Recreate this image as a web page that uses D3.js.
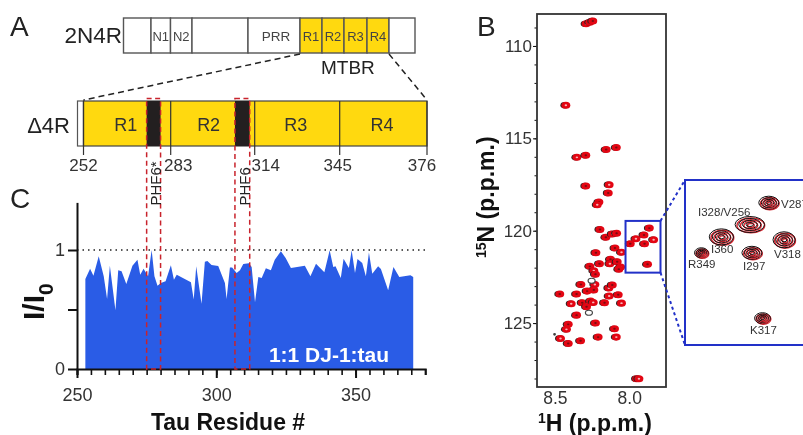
<!DOCTYPE html>
<html>
<head>
  <meta charset="UTF-8" />
  <title>tau DJ-1 figure</title>
  <script src="https://d3js.org/d3.v7.min.js"></script>
  <style>
    html, body { margin: 0; padding: 0; background: #fff; overflow: hidden; }
    svg { display: block; filter: blur(0.35px); }
    text { font-family: "Liberation Sans", Arial, sans-serif; fill: #333; }
    .letter { font-size: 28px; fill: #222; }
    .bold { font-weight: bold; fill: #111; }
    .axis path, .axis line { stroke: #111; }
    .axis text { fill: #333; }
  </style>
</head>
<body>
<div id="chart"></div>
<script>
// panel A, full length tau
var fullNames = ["", "N1", "N2", "", "PRR", "R1", "R2", "R3", "R4", ""];
var fullEdges = [1, 42, 71, 103, 187, 243, 264, 295, 326, 368, 441];
var fullFilled = [0, 0, 0, 0, 0, 1, 1, 1, 1, 0];
// panel A, repeat domain
var repeatTicks = [252, 283, 314, 345, 376];
var repeatNames = ["R1", "R2", "R3", "R4"];
var repeatLabelAt = [267, 297, 329, 360];
var motifNames = ["PHF6*", "PHF6"];
var motifStart = [275, 306.7];
var motifEnd = [280, 312];
// panel C
var residues = [253, 254.7, 255.9, 257.8, 259.6, 260.8, 261.8, 263.8, 264.8, 266, 267.7, 269.9, 271.7, 272.7, 273.9,
  275.5, 276.8, 277.8, 278.9, 280.1, 281.8, 283.7, 284.8, 285.8, 290.9, 291.9, 292.8, 294.7, 295.9, 296.8, 298.3,
  300.7, 303.1, 303.7, 304.9, 305.7, 307.3, 308.5, 309.7, 311.7, 312.7, 313.9, 315.1, 316.3, 317.8, 319.6, 321,
  323.2, 324.9, 326.8, 331.8, 333.8, 335.8, 338.8, 340.7, 342, 342.8, 344.7, 345.7, 347.6, 348.6, 349.8, 350.7,
  352.4, 353.7, 354.8, 356, 358.1, 359.1, 361.7, 363.6, 365.7, 369.7, 370.7];
var ratios = [.756, .843, .784, .947, .779, .588, .868, .493, .829, .821, .714, .868, .919, .793, .843,
  .779, 1.0, .779, .70, .723, .737, .871, .751, .793, .728, .583, .863, .549, .902, .908, .874,
  .866, .723, .588, .852, .852, .807, .829, .882, .888, .857, .56, .773, .765, .846, .829, .919,
  .989, .933, .849, .868, .779, .885, .812, .997, .857, .863, .765, .927, .849, .997, .807, .924,
  .891, .779, .98, .801, .863, .84, .661, .857, .773, .787, .773];
// panel B, peaks outside the boxed region
var peakH = [8.29, 8.265, 8.245, 8.426, 8.155, 8.087, 8.352, 8.292, 8.292, 8.135, 8.141, 8.204, 8.215,
  8.197, 8.157, 8.114, 8.085, 8.096, 8.052, 8.224, 8.126, 8.13, 8.2, 8.081, 8.058, 8.07, 8.265, 8.238, 8.227,
  8.325, 8.231, 8.238, 8.283, 8.137, 8.114, 8.074, 8.135, 8.467, 8.354, 8.39, 8.316, 8.26, 8.242, 8.287,
  8.166, 8.052, 8.354, 8.41, 8.422, 8.227, 8.099, 8.462, 8.327, 8.209, 8.087, 8.41, 7.951, 7.935];
var peakN = [108.8, 108.72, 108.65, 113.21, 115.61, 115.5, 116.03, 115.92, 117.58, 117.51, 117.96, 118.45, 118.6,
  119.93, 120.36, 120.18, 120.14, 120.94, 121.17, 121.19, 121.55, 121.79, 121.79, 121.68, 121.97, 122.08, 121.93, 122.17, 122.36,
  122.91, 122.91, 123.21, 123.27, 123.1, 122.94, 123.47, 123.54, 123.43, 123.43, 123.95, 123.9, 123.81, 123.88, 124.12,
  123.9, 123.92, 124.57, 125.07, 125.34, 125, 125.31, 125.83, 125.96, 125.76, 125.76, 126.1, 128.01, 128.01];
// reference only contours, no red on top
var openH = [8.253, 8.271, 8.502];
var openN = [122.71, 124.44, 125.61];
// panel B, assigned peaks in the boxed region
var assigned = ["V287", "I328/V256", "I360", "R349", "I297", "V318", "K317"];
var assignedH = [7.865, 7.901, 7.955, 7.993, 7.897, 7.836, 7.877];
var assignedN = [119.86, 120.23, 120.44, 120.71, 120.71, 120.49, 121.82];
var widthH = [.019, .028, .023, .013, .019, .021, .015];
var widthN = [.11, .136, .136, .085, .11, .136, .093];
var boxH = [8.025, 7.79];
var boxN = [119.47, 122.27];

var svg = d3.select("#chart").append("svg").attr("width", 803).attr("height", 435);

var yellow = "#ffd90f", blue = "#2a5ce6", red = "#c8232c", peakRed = "#e30613", boxBlue = "#2231c8";

// panel letters
svg.append("text").attr("class", "letter").attr("x", 10).attr("y", 36).text("A");
svg.append("text").attr("class", "letter").attr("x", 477).attr("y", 36).text("B");
svg.append("text").attr("class", "letter").attr("x", 10).attr("y", 208).text("C");

// ---- panel A top bar
var xFull = d3.scaleLinear()
  .domain(fullEdges)
  .range([123.5, 151, 170.5, 192, 248, 300, 322, 344, 367, 389, 415]);
var topBar = svg.append("g");
fullNames.forEach(function(name, i) {
  topBar.append("rect")
    .attr("x", xFull(fullEdges[i])).attr("y", 18)
    .attr("width", xFull(fullEdges[i + 1]) - xFull(fullEdges[i])).attr("height", 35)
    .attr("fill", fullFilled[i] ? yellow : "#fff")
    .attr("stroke", "#555").attr("stroke-width", 1.4);
  topBar.append("text")
    .attr("x", (xFull(fullEdges[i]) + xFull(fullEdges[i + 1])) / 2 + (name == "PRR" ? 2 : 0)).attr("y", 41)
    .attr("text-anchor", "middle").attr("font-size", name == "PRR" ? 13.5 : 13)
    .style("fill", "#444").text(name);
});
svg.append("text").attr("x", 122).attr("y", 43).attr("text-anchor", "end").attr("font-size", 22.5).style("fill", "#222").text("2N4R");
svg.append("text").attr("x", 321).attr("y", 74).attr("font-size", 19).style("fill", "#222").text("MTBR");

// ---- panel C scales come first, the motif boxes share them
var xC = d3.scaleLinear().domain([250, 375]).range([77, 425.2]);
var yC = d3.scaleLinear().domain([0, 1.4]).range([369, 202.4]);

// ---- panel A repeat bar
var xRepeat = d3.scaleLinear().domain(repeatTicks).range([83.5, 170.7, 254.7, 339.7, 427]);
var barTop = 101, barBottom = 146;
var tickNudge = {283: 7.5, 314: 11, 345: -2, 376: -5};
svg.append("rect").attr("x", 77.5).attr("y", barTop).attr("width", xRepeat(252) - 77.5).attr("height", barBottom - barTop)
  .attr("fill", "#fff").attr("stroke", "#555").attr("stroke-width", 1.2);
svg.append("rect").attr("x", xRepeat(252)).attr("y", barTop).attr("width", xRepeat(376) - xRepeat(252)).attr("height", barBottom - barTop)
  .attr("fill", yellow).attr("stroke", "#444").attr("stroke-width", 1.2);
motifNames.forEach(function(name, i) {
  svg.append("rect").attr("x", xC(motifStart[i])).attr("y", barTop).attr("width", xC(motifEnd[i]) - xC(motifStart[i])).attr("height", barBottom - barTop)
    .attr("fill", "#231f20");
});
repeatTicks.forEach(function(t) {
  svg.append("line").attr("x1", xRepeat(t)).attr("x2", xRepeat(t)).attr("y1", barTop).attr("y2", 155)
    .attr("stroke", "#333").attr("stroke-width", 1.2);
  svg.append("text").attr("x", xRepeat(t) + (tickNudge[t] || 0)).attr("y", 171).attr("text-anchor", "middle").attr("font-size", 17).text(t);
});
repeatNames.forEach(function(name, i) {
  svg.append("text").attr("x", xRepeat(repeatLabelAt[i])).attr("y", 131).attr("text-anchor", "middle").attr("font-size", 18).text(name);
});
svg.append("text").attr("x", 70).attr("y", 133).attr("text-anchor", "end").attr("font-size", 22).style("fill", "#222").text("\u03944R");

// zoom lines between the bars
[[xFull(243), xRepeat(252)], [xFull(368), xRepeat(376)]].forEach(function(p) {
  svg.append("line").attr("x1", p[0]).attr("y1", 54).attr("x2", p[1]).attr("y2", 100)
    .attr("stroke", "#222").attr("stroke-width", 1.5).attr("stroke-dasharray", "6,4");
});

// ---- panel C
var area = d3.area().x(function(d) { return xC(d[0]); }).y0(yC(0)).y1(function(d) { return yC(d[1]); });
svg.append("path").datum(d3.zip(residues, ratios)).attr("d", area).attr("fill", blue);

svg.append("line").attr("x1", xC(250)).attr("x2", 427).attr("y1", yC(1)).attr("y2", yC(1))
  .attr("stroke", "#222").attr("stroke-width", 1.3).attr("stroke-dasharray", "1.5,4");

var minorTicks = d3.range(250, 376, 5);
svg.append("g").attr("class", "axis").attr("transform", "translate(0," + yC(0) + ")")
  .call(d3.axisBottom(xC).tickValues(minorTicks).tickSize(6).tickFormat(""))
  .call(function(g) { g.selectAll("line").attr("stroke-width", 1.6); g.select(".domain").attr("stroke-width", 2); });
var xAxisC = svg.append("g").attr("class", "axis").attr("transform", "translate(0," + yC(0) + ")")
  .call(d3.axisBottom(xC).tickValues([250, 300, 350]).tickSize(9).tickPadding(10).tickFormat(d3.format("d")));
xAxisC.select(".domain").remove();
xAxisC.selectAll("line").attr("stroke-width", 2);
xAxisC.selectAll("text").attr("font-size", 18);

var yAxisC = svg.append("g").attr("class", "axis").attr("transform", "translate(" + xC(250) + ",0)")
  .call(d3.axisLeft(yC).tickValues([0, 0.5, 1]).tickSize(9).tickPadding(3).tickSizeOuter(0)
    .tickFormat(function(d) { return d == 0.5 ? "" : d; }));
yAxisC.select(".domain").attr("stroke-width", 2);
yAxisC.selectAll("line").attr("stroke-width", 2);
yAxisC.selectAll("text").attr("font-size", 18);

svg.append("text").attr("class", "bold").attr("x", 228).attr("y", 430).attr("text-anchor", "middle").attr("font-size", 23).text("Tau Residue #");
svg.append("text").attr("x", 329).attr("y", 362).attr("text-anchor", "middle").attr("font-size", 21).attr("font-weight", "bold")
  .style("fill", "#fff").text("1:1 DJ-1:tau");

var yTitle = svg.append("text").attr("class", "bold").attr("font-size", 30)
  .attr("transform", "translate(43.5,320) rotate(-90)");
yTitle.append("tspan").text("I/I");
yTitle.append("tspan").attr("font-size", 21).attr("dy", 9).text("0");

// motif boxes run from the repeat bar down to the axis
motifNames.forEach(function(name, i) {
  svg.append("rect").attr("x", xC(motifStart[i])).attr("y", 98.5).attr("width", xC(motifEnd[i]) - xC(motifStart[i])).attr("height", yC(0) - 98.5)
    .attr("fill", "none").attr("stroke", red).attr("stroke-width", 1.5).attr("stroke-dasharray", "5,3.5");
  svg.append("text").attr("font-size", 15).style("fill", "#222")
    .attr("transform", "translate(" + (xC(motifEnd[i]) + 0.5) + ",205.5) rotate(-90)").text(name);
});

// ---- panel B
var xB = d3.scaleLinear().domain([8.62, 7.753]).range([537, 666]);
var yB = d3.scaleLinear().domain([108.27, 128.46]).range([14, 387]);

svg.append("g").attr("class", "axis").attr("transform", "translate(537,0)")
  .call(d3.axisLeft(yB).tickValues(d3.range(109, 129)).tickSize(2.5).tickFormat(""))
  .call(function(g) { g.select(".domain").remove(); g.selectAll("line").attr("stroke", "#555"); });
var yAxisB = svg.append("g").attr("class", "axis").attr("transform", "translate(537,0)")
  .call(d3.axisLeft(yB).tickValues([110, 115, 120, 125]).tickSize(4).tickPadding(1));
yAxisB.select(".domain").remove();
yAxisB.selectAll("text").attr("font-size", 17);
var xAxisB = svg.append("g").attr("class", "axis").attr("transform", "translate(0,387)")
  .call(d3.axisBottom(xB).tickValues([8.5, 8.0]).tickSize(0).tickPadding(5).tickFormat(d3.format(".1f")));
xAxisB.select(".domain").remove();
xAxisB.selectAll("text").attr("font-size", 17.5);

// peaks, black reference contour sits just under the red one
var spectrum = svg.append("g");
function drawPeak(g, h, n, i) {
  var cx = xB(h), cy = yB(n);
  var rx = Math.abs(xB(h + .03) - cx), ry = Math.abs(yB(n + .19) - cy);
  g.append("ellipse").attr("cx", cx - 1).attr("cy", cy).attr("rx", rx).attr("ry", ry * .9)
    .attr("fill", "#2a2222");
  g.append("ellipse").attr("cx", cx).attr("cy", cy).attr("rx", rx).attr("ry", ry)
    .attr("fill", peakRed);
  g.append("ellipse").attr("cx", cx).attr("cy", cy).attr("rx", rx * .28).attr("ry", ry * .28)
    .attr("fill", i % 3 == 0 ? "#fff" : "#4a1010").attr("opacity", .7);
}
d3.zip(peakH, peakN).forEach(function(p, i) { drawPeak(spectrum, p[0], p[1], i); });
d3.zip(assignedH, assignedN).forEach(function(p, i) { drawPeak(spectrum, p[0], p[1], i + 1); });
d3.zip(openH, openN).forEach(function(p, i) {
  spectrum.append("ellipse").attr("cx", xB(p[0])).attr("cy", yB(p[1]))
    .attr("rx", i == 2 ? 0.8 : 3.5).attr("ry", i == 2 ? 0.8 : 2.5)
    .attr("fill", i == 2 ? "#222" : "#fff").attr("stroke", "#444").attr("stroke-width", 1.2);
});

svg.append("rect").attr("x", 537).attr("y", 14).attr("width", 129).attr("height", 373)
  .attr("fill", "none").attr("stroke", "#333").attr("stroke-width", 1.8);

svg.append("rect").attr("x", xB(boxH[0])).attr("y", yB(boxN[0])).attr("width", xB(boxH[1]) - xB(boxH[0])).attr("height", yB(boxN[1]) - yB(boxN[0]))
  .attr("fill", "none").attr("stroke", boxBlue).attr("stroke-width", 2);

var xTitle = svg.append("text").attr("class", "bold").attr("x", 538).attr("y", 431).attr("font-size", 23);
xTitle.append("tspan").attr("font-size", 14).attr("dy", -8).text("1");
xTitle.append("tspan").attr("dy", 8).text("H (p.p.m.)");
var nTitle = svg.append("text").attr("class", "bold").attr("font-size", 23)
  .attr("transform", "translate(494,258) rotate(-90)");
nTitle.append("tspan").attr("font-size", 14).attr("dy", -8).text("15");
nTitle.append("tspan").attr("dy", 8).text("N (p.p.m.)");

// ---- inset of the boxed region, runs off the page on the right
var xInset = d3.scaleLinear().domain(boxH).range([685, 808.8]);
var yInset = d3.scaleLinear().domain(boxN).range([180, 345]);

[0, 1].forEach(function(k) {
  svg.append("line").attr("x1", xB(boxH[1])).attr("y1", yB(boxN[k])).attr("x2", xInset(boxH[0])).attr("y2", yInset(boxN[k]))
    .attr("stroke", boxBlue).attr("stroke-width", 2).attr("stroke-dasharray", "3,3");
});
svg.append("rect").attr("x", 685).attr("y", 180).attr("width", 130).attr("height", 165)
  .attr("fill", "none").attr("stroke", boxBlue).attr("stroke-width", 2);

var rings = [1, .75, .5, .25];
var inset = svg.append("g");
assigned.forEach(function(name, i) {
  var cx = xInset(assignedH[i]), cy = yInset(assignedN[i]);
  var rx = Math.abs(xInset(assignedH[i] + widthH[i]) - cx), ry = Math.abs(yInset(assignedN[i] + widthN[i]) - cy);
  rings.forEach(function(r, j) {
    inset.append("ellipse").attr("cx", cx + .5).attr("cy", cy + .6).attr("rx", rx * r * .94).attr("ry", ry * r * .94)
      .attr("fill", "none").attr("stroke", "#d4252f").attr("stroke-width", 1.4);
    inset.append("ellipse").attr("cx", cx - .5).attr("cy", cy - .3).attr("rx", rx * r).attr("ry", ry * r)
      .attr("fill", "none").attr("stroke", "#111").attr("stroke-width", 1);
  });
});
var labelX = [781, 698, 711, 688, 743, 774, 750];
var labelY = [208, 216, 253, 268, 270, 258, 334];
assigned.forEach(function(name, i) {
  svg.append("text").attr("x", labelX[i]).attr("y", labelY[i]).attr("font-size", 11.5).text(name);
});
</script>
</body>
</html>
